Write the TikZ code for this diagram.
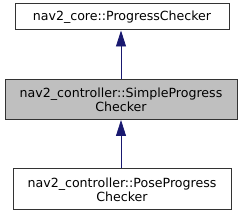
\documentclass[tikz,border=0pt]{standalone}
\usepackage{fontspec}
\setmainfont{DejaVu Sans}
\usetikzlibrary{arrows.meta}
\definecolor{edgeblue}{HTML}{191970}
\tikzset{
  classbox/.style={draw=black!80, line width=1pt, fill=white, align=center, font=\fontsize{12.6}{14}\selectfont, inner sep=0pt},
  inherit/.style={draw=edgeblue, line width=0.8pt, -{Triangle[length=16pt,width=10pt]}}
}
\begin{document}
\begin{tikzpicture}[x=1pt,y=1pt]
\useasboundingbox (0,0) rectangle (243,216);
\node[classbox, minimum width=214pt, minimum height=26pt] (core) at (122,199) {nav2\_core::ProgressChecker};
\node[classbox, fill=black!25, minimum width=232pt, minimum height=40pt] (simple) at (121,116.5) {nav2\_controller::SimpleProgress\\Checker};
\node[classbox, minimum width=218pt, minimum height=41pt] (pose) at (122,26.5) {nav2\_controller::PoseProgress\\Checker};
\draw[inherit] (simple.north -| 121,0) -- (core.south -| 121,0);
\draw[inherit] (pose.north -| 121,0) -- (simple.south -| 121,0);
\end{tikzpicture}
\end{document}
